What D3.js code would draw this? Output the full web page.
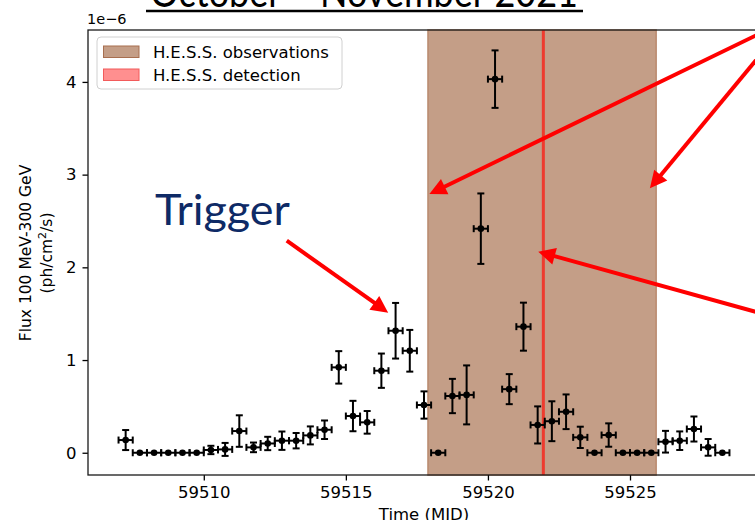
<!DOCTYPE html>
<html><head><meta charset="utf-8">
<script src="https://cdn.jsdelivr.net/npm/d3@7"></script>
<style>body{margin:0;background:#fff}svg{display:block}</style>
</head><body><svg id="c" width="755" height="520"></svg>
<script>
// ---- data ----
const times = [59507.25,59507.75,59508.25,59508.75,59509.25,59509.75,59510.25,59510.75,59511.25,59511.75,
  59512.25,59512.75,59513.25,59513.75,59514.25,59514.75,59515.25,59515.75,59516.25,59516.75,
  59517.25,59517.75,59518.25,59518.75,59519.25,59519.75,59520.25,59520.75,59521.25,59521.75,
  59522.25,59522.75,59523.25,59523.75,59524.25,59524.75,59525.25,59525.75,59526.25,59526.75,
  59527.25,59527.75,59528.25];
const timeErr = [0.25];
const flux = [0.137,0,0,0,0,0,0.03,0.036,0.234,0.058,
  0.10,0.13,0.13,0.187,0.248,0.921,0.396,0.328,0.885,1.316,
  1.10,0.515,0,0.612,0.624,2.417,4.03,0.686,1.36,0.30,
  0.34,0.442,0.166,0,0.191,0,0,0,0.119,0.13,
  0.256,0.058,0];
const fluxErr = [0.108,0,0,0,0,0,0.045,0.07,0.17,0.052,
  0.072,0.099,0.083,0.097,0.10,0.175,0.164,0.122,0.185,0.30,
  0.225,0.147,0,0.185,0.318,0.38,0.31,0.162,0.259,0.20,
  0.215,0.187,0.115,0,0.126,0,0,0,0.117,0.10,
  0.135,0.09,0];
const xTicks = [59510, 59515, 59520, 59525];
const yTicks = [0, 1, 2, 3, 4];
const hessObservations = [59517.89, 59525.92];
const hessDetection = [59521.95];
const legendLabels = ["H.E.S.S. observations", "H.E.S.S. detection"];
// annotation arrows in data coords: [x0,y0,x1(tip),y1(tip)]
const arrows = [
  [59512.92, 2.287, 59516.49, 1.511],
  [59530.63, 4.68, 59517.94, 2.791],
  [59530.28, 4.547, 59525.70, 2.853],
  [59530.63, 1.417, 59521.77, 2.169]
];
const triggerPos = [59508.28, 2.457];

// ---- layout ----
const svg = d3.select("#c");
const L = 88, R = 760, T = 30, B = 475;
const x = d3.scaleLinear().domain([59505.925, 59529.575]).range([L, R]);
const y = d3.scaleLinear().domain([-0.24, 4.56]).range([B, T]);
const font = "DejaVu Sans, sans-serif";

// title (cut off at top)
svg.append("text").attr("x", 150).attr("y", 7).attr("font-family", "Lato, sans-serif")
  .attr("font-size", 42).attr("textLength", 428).attr("lengthAdjust", "spacingAndGlyphs")
  .attr("fill", "#000").text("October – November 2021");
svg.append("line").attr("x1", 146).attr("x2", 583).attr("y1", 11).attr("y2", 11)
  .attr("stroke", "#000").attr("stroke-width", 2.5);

// shaded region
svg.append("rect").attr("x", x(hessObservations[0])).attr("y", T)
  .attr("width", x(hessObservations[1]) - x(hessObservations[0])).attr("height", B - T)
  .attr("fill", "#c49e87").attr("stroke", "#b98a6e").attr("stroke-width", 1.5);

// detection line
svg.append("line").attr("x1", x(hessDetection[0])).attr("x2", x(hessDetection[0]))
  .attr("y1", T).attr("y2", B).attr("stroke", "#ee3b2e").attr("stroke-width", 3);

// error bars
const g = svg.append("g").attr("stroke", "#000").attr("stroke-width", 2);
const cap = 3.5;
times.forEach((t, i) => {
  const cx = x(t), cy = y(flux[i]);
  const xl = x(t - timeErr[0]), xr = x(t + timeErr[0]);
  g.append("line").attr("x1", xl).attr("x2", xr).attr("y1", cy).attr("y2", cy);
  g.append("line").attr("x1", xl).attr("x2", xl).attr("y1", cy - cap).attr("y2", cy + cap);
  g.append("line").attr("x1", xr).attr("x2", xr).attr("y1", cy - cap).attr("y2", cy + cap);
  if (fluxErr[i] > 0) {
    const yt = y(flux[i] + fluxErr[i]), yb = y(flux[i] - fluxErr[i]);
    g.append("line").attr("x1", cx).attr("x2", cx).attr("y1", yt).attr("y2", yb);
    g.append("line").attr("x1", cx - cap).attr("x2", cx + cap).attr("y1", yt).attr("y2", yt);
    g.append("line").attr("x1", cx - cap).attr("x2", cx + cap).attr("y1", yb).attr("y2", yb);
  }
});
svg.append("g").selectAll("circle").data(times).join("circle")
  .attr("cx", d => x(d)).attr("cy", (d, i) => y(flux[i])).attr("r", 3.3).attr("fill", "#000");

// axes
const xAxis = svg.append("g").attr("transform", `translate(0,${B})`)
  .call(d3.axisBottom(x).tickValues(xTicks).tickFormat(d3.format("d")).tickSize(5.5).tickPadding(6));
const yAxis = svg.append("g").attr("transform", `translate(${L},0)`)
  .call(d3.axisLeft(y).tickValues(yTicks).tickFormat(d3.format("d")).tickSize(5.5).tickPadding(6));
[xAxis, yAxis].forEach(a => {
  a.select(".domain").remove();
  a.selectAll(".tick line").attr("stroke", "#000").attr("stroke-width", 1.3);
  a.selectAll(".tick text").attr("fill", "#000").attr("font-family", font).attr("font-size", 16.5);
});
svg.append("rect").attr("x", L).attr("y", T).attr("width", R - L).attr("height", B - T)
  .attr("fill", "none").attr("stroke", "#1a1a1a").attr("stroke-width", 1.3);

svg.append("text").attr("x", 87).attr("y", 24).attr("font-family", font).attr("font-size", 14.5)
  .attr("fill", "#000").text("1e\u22126");

// y label
const yl = svg.append("text").attr("transform", "translate(31,253) rotate(-90)")
  .attr("text-anchor", "middle").attr("font-family", font).attr("font-size", 15.5).attr("fill", "#000");
yl.append("tspan").attr("x", 0).attr("dy", 0).text("Flux 100 MeV-300 GeV");
const t2 = yl.append("tspan").attr("x", 0).attr("dy", 21).text("(ph/cm");
t2.append("tspan").attr("font-size", 11).attr("dy", -6).text("2");
t2.append("tspan").attr("dy", 6).text("/s)");

// x label
svg.append("text").attr("x", (L + R) / 2).attr("y", 520).attr("text-anchor", "middle")
  .attr("font-family", font).attr("font-size", 16.5).attr("fill", "#000").text("Time (MJD)");

// legend
const lg = svg.append("g");
lg.append("rect").attr("x", 97).attr("y", 37).attr("width", 245).attr("height", 52).attr("rx", 4)
  .attr("fill", "#fff").attr("fill-opacity", 0.85).attr("stroke", "#d0d0d0").attr("stroke-width", 1);
lg.append("rect").attr("x", 103.5).attr("y", 46).attr("width", 35.5).attr("height", 11.5)
  .attr("fill", "#c49e87").attr("stroke", "#a86e4f").attr("stroke-width", 1);
lg.append("rect").attr("x", 103.5).attr("y", 69).attr("width", 35.5).attr("height", 11.5)
  .attr("fill", "#ff8f8f").attr("stroke", "#f25b5b").attr("stroke-width", 1);
legendLabels.forEach((s, i) => {
  lg.append("text").attr("x", 153).attr("y", 57.5 + i * 23).attr("font-family", font)
    .attr("font-size", 16.5).attr("fill", "#000").text(s);
});

// arrows
const ag = svg.append("g");
arrows.forEach(a => {
  const x0 = x(a[0]), y0 = y(a[1]), x1 = x(a[2]), y1 = y(a[3]);
  const dx = x1 - x0, dy = y1 - y0, len = Math.hypot(dx, dy);
  const ux = dx / len, uy = dy / len, hl = 17, hw = 8.5;
  const bx = x1 - ux * hl, by = y1 - uy * hl;
  ag.append("line").attr("x1", x0).attr("y1", y0).attr("x2", bx + ux * 2).attr("y2", by + uy * 2)
    .attr("stroke", "#ff0000").attr("stroke-width", 4);
  ag.append("polygon").attr("fill", "#ff0000")
    .attr("points", [[x1, y1], [bx - uy * hw, by + ux * hw], [bx + uy * hw, by - ux * hw]].map(p => p.join(",")).join(" "));
});

// Trigger text
svg.append("text").attr("x", x(triggerPos[0])).attr("y", y(triggerPos[1]))
  .attr("font-family", "Lato, sans-serif").attr("font-size", 42).attr("fill", "#0e2a66")
  .attr("textLength", 135).attr("lengthAdjust", "spacingAndGlyphs").text("Trigger");
</script></body></html>
